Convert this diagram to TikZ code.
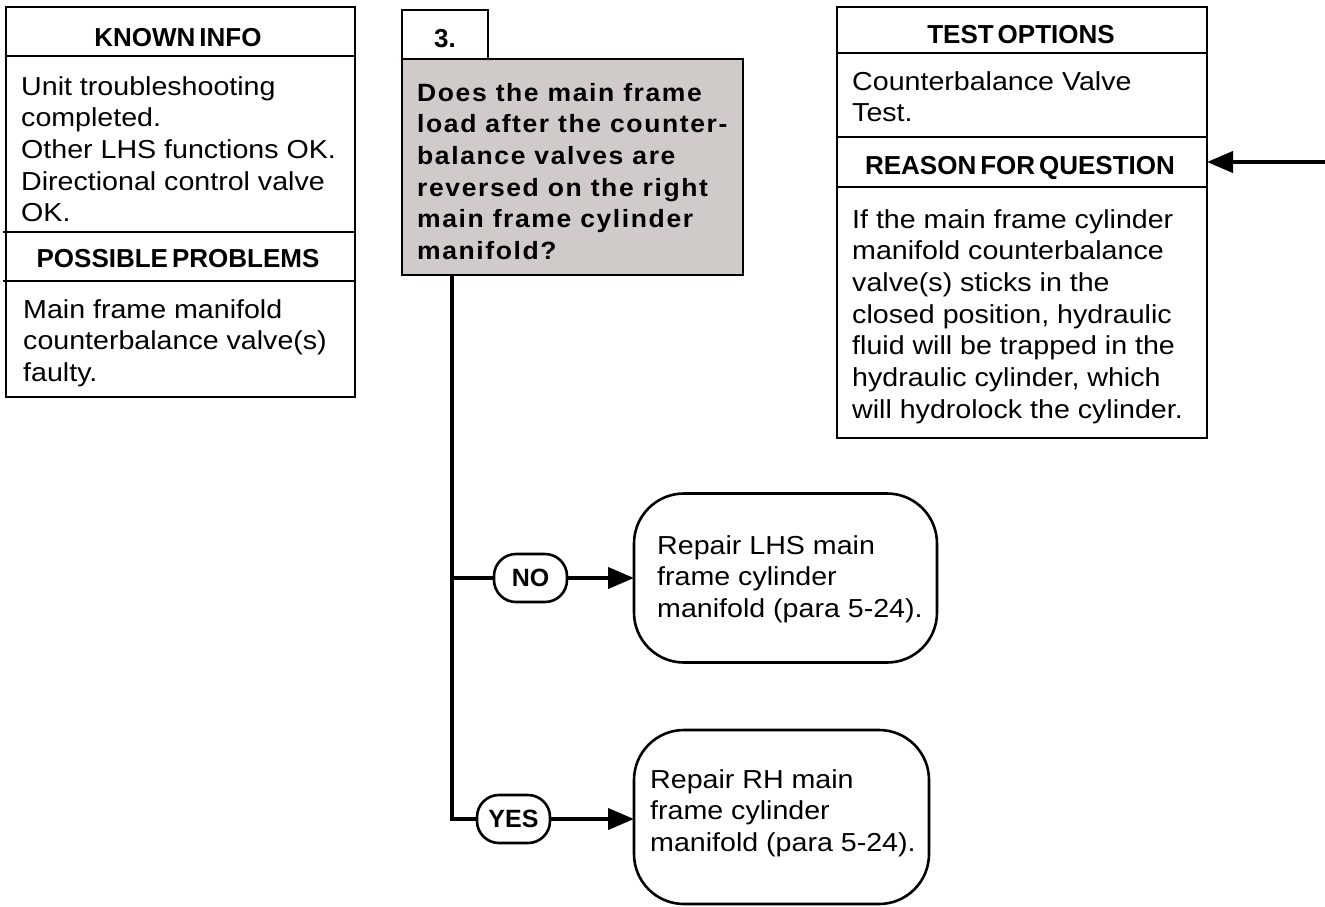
\documentclass[tikz,border=0pt]{standalone}
\usepackage{fontspec}
\setmainfont{Liberation Sans}
\newfontfamily\bodyf[FakeStretch=1.1]{Liberation Sans}
\newfontfamily\questf[FakeStretch=1.06,LetterSpace=6.4]{Liberation Sans}
\usetikzlibrary{arrows.meta}
\definecolor{qgray}{RGB}{208,202,200}
\newcommand{\txtlines}[1]{\begin{tabular}[t]{@{}l@{}}#1\end{tabular}}
\newcommand{\hdfont}{\fontsize{26}{30}\selectfont\bfseries\setlength{\spaceskip}{4pt}}
\tikzset{
  frame/.style={draw=black, line width=2.6pt, inner sep=0pt, outer sep=0pt},
  divider/.style={line width=2.6pt},
  headtxt/.style={font=\hdfont, inner sep=0pt, anchor=base},
  bodytxt/.style={font=\bodyf\fontsize{26}{31.7}\selectfont, inner sep=0pt, anchor=base west},
  qtxt/.style={font=\questf\bfseries\fontsize{25}{31.7}\selectfont, inner sep=0pt, anchor=base west},
  conn/.style={line width=4pt},
  arr/.style={conn, -{Triangle[length=26pt,width=21pt]}},
  pill/.style={frame, rounded corners=22pt, minimum width=73pt, minimum height=48pt, font=\fontsize{25}{28}\selectfont\bfseries},
  answer/.style={frame, rounded corners=50pt},
}
\begin{document}
\begin{tikzpicture}[x=1pt,y=-1pt]
\useasboundingbox (0,0) rectangle (1325,906);
% ---------- KNOWN INFO box ----------
\node[frame, minimum width=349pt, minimum height=390pt, anchor=north west] (known) at (6,7) {};
\draw[divider] (6,56) -- (355,56);
\draw[divider] (3,232) -- (355,232);
\draw[divider] (3,281) -- (355,281);
\node[headtxt] (knownhead) at (178,46) {KNOWN INFO};
\node[bodytxt] (knowntext) at (21,95) {\txtlines{Unit troubleshooting\\completed.\\Other LHS functions OK.\\Directional control valve\\OK.}};
\node[headtxt] (probhead) at (178,267) {POSSIBLE PROBLEMS};
\node[bodytxt] (probtext) at (23,318) {\txtlines{Main frame manifold\\counterbalance valve(s)\\faulty.}};
% ---------- question ----------
\node[frame, minimum width=86pt, minimum height=49pt, anchor=north west] (num) at (402,10) {};
\node[headtxt] (numtxt) at (445,47) {3.};
\node[frame, fill=qgray, minimum width=341pt, minimum height=216pt, anchor=north west] (q) at (402,59) {};
\node[qtxt] (qtext) at (417,101) {\txtlines{Does the main frame\\load after the counter-\\balance valves are\\reversed on the right\\main frame cylinder\\manifold?}};
% ---------- TEST OPTIONS box ----------
\node[frame, minimum width=370pt, minimum height=431pt, anchor=north west] (test) at (837,7) {};
\draw[divider] (837,53) -- (1207,53);
\node[frame, minimum width=370pt, minimum height=50pt] (reason) at (1022,162) {};
\node[headtxt] (testhead) at (1021,43) {TEST OPTIONS};
\node[bodytxt] (testtext) at (852,90) {\txtlines{Counterbalance Valve\\Test.}};
\node[headtxt] (reasonhead) at (1020,174) {REASON FOR QUESTION};
\node[bodytxt] (reasontext) at (852,228) {\txtlines{If the main frame cylinder\\manifold counterbalance\\valve(s) sticks in the\\closed position, hydraulic\\fluid will be trapped in the\\hydraulic cylinder, which\\will hydrolock the cylinder.}};
\coordinate (rin) at (1325,162);
\draw[arr] (rin) -- (reason.east);
% ---------- answers ----------
\node[pill] (no) at (530.5,578) {NO};
\node[pill] (yes) at (513.5,819) {YES};
\node[answer, minimum width=303pt, minimum height=169pt] (rno) at (785.5,578) {};
\node[bodytxt] (rnotext) at (657,554) {\txtlines{Repair LHS main\\frame cylinder\\manifold (para 5-24).}};
\node[answer, minimum width=295pt, minimum height=174pt] (ryes) at (781.5,817) {};
\node[bodytxt] (ryestext) at (650,788) {\txtlines{Repair RH main\\frame cylinder\\manifold (para 5-24).}};
% ---------- connectors ----------
\coordinate (t0) at ([xshift=50pt]q.south west);
\draw[conn] (t0) |- (yes.west);
\draw[conn] (t0 |- no.west) -- (no.west);
\draw[arr] (no.east) -- (rno.west);
\draw[arr] (yes.east) -- (yes.east -| ryes.west);
\end{tikzpicture}
\end{document}
